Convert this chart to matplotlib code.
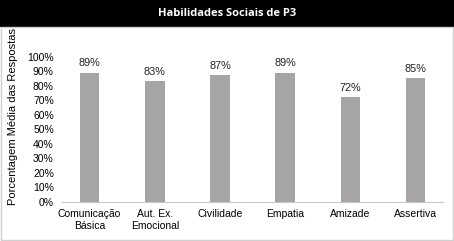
import matplotlib.pyplot as plt
from matplotlib.patches import Rectangle
from matplotlib.ticker import PercentFormatter

# Chart data
categories = ["Comunicação\nBásica", "Aut. Ex.\nEmocional", "Civilidade", "Empatia", "Amizade", "Assertiva"]
values = [0.89, 0.83, 0.87, 0.89, 0.72, 0.85]
labels = ["89%", "83%", "87%", "89%", "72%", "85%"]

plt.rcParams['font.family'] = ['Liberation Sans', 'DejaVu Sans']

fig = plt.figure(figsize=(4.54, 2.41), dpi=100)
fig.patch.set_facecolor("white")

# black title band and light border
fig.patches.append(Rectangle((0, 0.89), 1, 0.11, transform=fig.transFigure,
                             facecolor="black", edgecolor="none", zorder=0))
fig.patches.append(Rectangle((0.002, 0.004), 0.996, 0.886, transform=fig.transFigure,
                             facecolor="none", edgecolor="#d0d0d0", lw=1, zorder=0))
fig.text(0.5, 0.945, "Habilidades Sociais de P3", color="white", ha="center", va="center",
         fontsize=8, fontweight="bold", family=["Open Sans", "DejaVu Sans"])

ax = fig.add_axes([0.137, 0.163, 0.839, 0.602])
x = range(len(categories))
bars = ax.bar(x, values, width=0.3, color="#a6a4a4")
for xi, v, lab in zip(x, values, labels):
    ax.text(xi, v + 0.03, lab, ha="center", va="bottom", fontsize=7.8, color="#222222")

ax.set_ylim(0, 1.0)
ax.set_xlim(-0.42, len(categories) - 0.58)
ax.yaxis.set_major_formatter(PercentFormatter(1.0, decimals=0))
ax.set_yticks([i / 10 for i in range(11)])
ax.set_xticks(list(x))
ax.set_xticklabels(categories, fontsize=7.5, linespacing=1.25)
ax.tick_params(axis="y", labelsize=7.5, length=0, pad=6)
ax.tick_params(axis="x", length=0, pad=5)
ax.set_ylabel("Porcentagem Média das Respostas", fontsize=8, labelpad=4)
ax.yaxis.set_label_coords(-0.115, 0.59)

for side in ["top", "right", "left"]:
    ax.spines[side].set_visible(False)
ax.spines["bottom"].set_color("#c8c8c8")
ax.spines["bottom"].set_clip_on(False)

fig.savefig("out.png", dpi=100)
